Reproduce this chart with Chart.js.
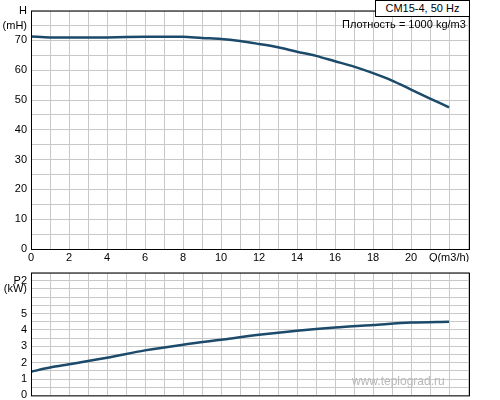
<!DOCTYPE html>
<html>
<head>
<meta charset="utf-8">
<script src="https://cdn.jsdelivr.net/npm/chart.js@4"></script>
<style>
  body { margin: 0; background: #fff; font-family: "Liberation Sans", Arial, sans-serif; }
  #wrap { position: relative; width: 500px; height: 400px; overflow: hidden; }
  canvas { position: absolute; left: 0; }
  .txt { position: absolute; font-size: 11px; color: #000; white-space: nowrap; }
</style>
</head>
<body>
<div id="wrap">
  <canvas id="headChart" style="top:0" width="500" height="262"></canvas>
  <canvas id="powerChart" style="top:262px" width="500" height="144"></canvas>
  <div class="txt" style="left:375px;top:0;width:93px;height:15px;border:1px solid #000;text-align:center;line-height:15px;background:#fff">CM15-4, 50 Hz</div>
  <div class="txt" style="left:342px;top:18px">Плотность = 1000 kg/m3</div>
  <div class="txt" style="left:352px;top:374px;font-size:12px;color:#b8b8b8">www.teplograd.ru</div>
</div>
<script>
// flow Q, m3/h
const flow = [0, 1, 2, 4, 6, 8, 9, 10, 11, 12, 13, 14, 15, 16, 17, 18, 19, 20, 21, 22];
// head H, m
const head = [71.3, 71, 71, 71, 71.2, 71.2, 70.8, 70.5, 69.8, 68.8, 67.7, 66.2, 64.8, 63, 61.2, 59, 56.5, 53.5, 50.5, 47.5];
// power P2, kW
const powerFlow = [0, 1, 2, 4, 6, 8, 10, 12, 14, 16, 18, 20, 22];
const power = [1.45, 1.7, 1.9, 2.3, 2.75, 3.1, 3.4, 3.7, 3.95, 4.15, 4.3, 4.45, 4.5];

const lineColor = "#1b4a6b";
const gridColor = "#c8c8c8";
const font = { family: "Liberation Sans", size: 11 };

const frame = {
  id: "frame",
  afterDraw(chart) {
    const a = chart.chartArea, c = chart.ctx;
    c.save();
    c.strokeStyle = "#000";
    c.lineWidth = 1;
    c.strokeRect(a.left + 0.5, a.top + 0.5, a.right - a.left, a.bottom - a.top);
    c.restore();
  }
};

function intTicks(step) {
  return function (scale) {
    const t = [];
    for (let v = scale.min; v <= scale.max + 1e-9; v += step) t.push({ value: +v.toFixed(2) });
    scale.ticks = t;
  };
}

function xScale(showLabels, height) {
  return {
    type: "linear", min: 0, max: 23.05,
    afterBuildTicks: intTicks(1),
    afterFit(s) { s.height = height; },
    grid: { color: gridColor, drawTicks: false },
    border: { display: false },
    ticks: {
      display: showLabels, color: "#000", font, padding: 2, autoSkip: false, maxRotation: 0,
      callback: v => v === 22 ? "Q(m3/h)" : (v % 2 === 0 ? v : "")
    }
  };
}

function yScale(max, step, labelFn) {
  return {
    min: 0, max,
    afterBuildTicks: intTicks(step),
    afterFit(s) { s.width = 31; },
    grid: { color: gridColor, drawTicks: false },
    border: { display: false },
    ticks: { color: "#000", font, padding: 4, autoSkip: false, callback: labelFn }
  };
}

new Chart(document.getElementById("headChart"), {
  type: "line",
  data: { datasets: [{ data: flow.map((q, i) => ({ x: q, y: head[i] })), borderColor: lineColor, borderWidth: 2.5, pointRadius: 0, tension: 0.3 }] },
  options: {
    responsive: false, animation: false,
    layout: { padding: { top: 2, right: 31 } },
    plugins: { legend: { display: false }, tooltip: { enabled: false } },
    scales: {
      x: xScale(true, 13),
      y: yScale(80, 5, v => v === 80 ? "H" : v === 75 ? "(mH)" : (v % 10 === 0 ? v : ""))
    }
  },
  plugins: [frame]
});

new Chart(document.getElementById("powerChart"), {
  type: "line",
  data: { datasets: [{ data: powerFlow.map((q, i) => ({ x: q, y: power[i] })), borderColor: lineColor, borderWidth: 2.5, pointRadius: 0, tension: 0.3 }] },
  options: {
    responsive: false, animation: false,
    layout: { padding: { top: 2, right: 31, bottom: 0 } },
    plugins: { legend: { display: false }, tooltip: { enabled: false } },
    scales: {
      x: xScale(false, 0),
      y: yScale(7.5, 0.5, v => v === 7 ? "P2" : v === 6.5 ? "(kW)" : (Number.isInteger(v) && v <= 5 ? v : ""))
    }
  },
  plugins: [frame]
});
</script>
</body>
</html>
